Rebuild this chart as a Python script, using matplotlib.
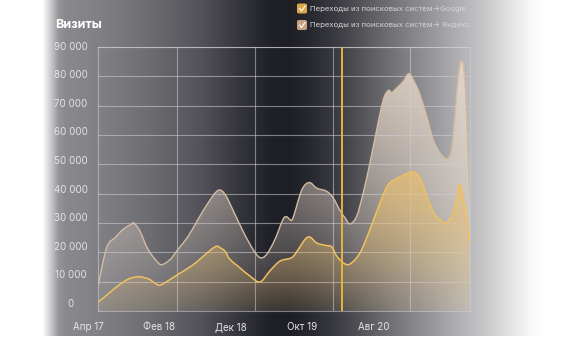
import numpy as np
import matplotlib
matplotlib.use("Agg")
import matplotlib.pyplot as plt
from matplotlib.patches import FancyBboxPatch, PathPatch
from matplotlib.path import Path
from matplotlib.lines import Line2D

plt.rcParams['font.family'] = ['Inter', 'DejaVu Sans']

W, H = 574, 338

# months counted from April 2017
months_yandex = [1.44, 2.62, 3.78, 4.90, 6.11, 6.43, 7.27, 8.39, 9.61, 10.31,
                 11.47, 12.59, 13.99, 15.38, 16.78, 18.18, 19.16, 20.28, 21.68, 23.08,
                 24.06, 24.99, 26.15, 27.27, 27.79, 28.25, 28.67, 29.89, 30.95, 31.99,
                 33.38, 34.31, 35.24, 35.94, 36.64, 37.58, 38.50, 39.44, 40.38, 41.30,
                 42.00, 42.48, 43.17, 44.10, 44.90, 45.73, 46.43, 47.37, 48.29, 49.23,
                 50.17, 50.87, 51.33, 51.79, 52.27, 52.73, 53.19, 53.43]
visits_yandex = [9000, 21700, 25000, 27800, 29700, 30000, 27200, 21000, 17000, 15800,
                 17500, 21000, 25400, 31200, 36800, 41100, 39800, 34400, 27200, 21000,
                 18200, 19300, 24400, 31200, 32100, 31200, 31700, 41200, 43800, 41900,
                 40800, 38500, 34300, 31800, 29700, 32300, 40300, 50500, 61800, 72000,
                 75200, 74500, 76000, 78300, 80900, 77700, 73800, 66400, 58400, 53900,
                 51900, 55000, 66400, 80000, 85300, 77700, 49300, 36000]

months_google = [1.44, 2.80, 4.20, 5.59, 6.99, 8.39, 9.37, 10.07, 11.19, 12.59,
                 14.50, 15.90, 17.30, 18.00, 18.46, 19.16, 19.86, 21.26, 22.66, 24.06,
                 25.45, 26.85, 28.49, 29.41, 30.35, 31.05, 31.99, 33.15, 34.08, 34.78,
                 35.71, 36.64, 38.04, 39.44, 40.84, 42.00, 43.40, 44.57, 45.73, 46.67,
                 47.55, 48.50, 49.43, 50.13, 51.06, 51.76, 52.08, 52.45, 53.15, 53.43]
visits_google = [3000, 5800, 8600, 10800, 11700, 11000, 9500, 8800, 10300, 12500,
                 15400, 18200, 21100, 22100, 21600, 20400, 17600, 14700, 11900, 9900,
                 13700, 17000, 18200, 21000, 24400, 25200, 23200, 22400, 21900, 18800,
                 16400, 16000, 19800, 27800, 36900, 43100, 45400, 46800, 47300, 44200,
                 38000, 32900, 30600, 30000, 33500, 41400, 43100, 39100, 28900, 23300]

tick_months = [0, 10, 20, 30, 40]
tick_labels = ['Апр 17', 'Фев 18', 'Дек 18', 'Окт 19', 'Авг 20']
y_ticks = list(range(0, 90001, 10000))
grid_months = [12.38, 23.29, 34.2, 45.03]
marker_month = 35.52
x_range = (1.4, 53.43)

fig = plt.figure(figsize=(W / 100, H / 100), dpi=100)

# horizontal shading behind everything
bg = fig.add_axes([0, 0, 1, 1], zorder=-10)
stops_x = [0, 42, 50, 58, 65, 100, 150, 200, 240, 270, 290, 310, 340, 370,
           400, 430, 460, 490, 515, 530, 545, 574]
stops_g = [255, 255, 205, 150, 138, 128, 108, 82, 52, 32, 30, 40, 62, 92,
           122, 150, 178, 205, 232, 248, 255, 255]
cols = np.arange(W)
g = np.interp(cols, stops_x, stops_g) / 255.0
row = np.stack([g, g, np.clip(g + 0.035 * (1 - g), 0, 1)], axis=-1)
img = np.repeat(row[None, :, :], H, axis=0)
img[336:, :, :] = 1.0
bg.imshow(img, aspect='auto', extent=[0, W, H, 0], interpolation='bilinear')
bg.set_axis_off()

ax = fig.add_axes([98 / W, 27 / H, 372 / W, 264 / H])
ax.patch.set_alpha(0)
ax.set_xlim(*x_range)
ax.set_ylim(0, 90000)
ax.set_yticks(y_ticks)
ax.set_xticks(grid_months)
ax.tick_params(length=0, labelleft=False, labelbottom=False)
ax.grid(True, color='#d0d0d6', alpha=0.55, lw=0.8)
for s in ax.spines.values():
    s.set_color('#d0d0d6')
    s.set_alpha(0.55)
    s.set_linewidth(0.8)


def smooth_path(xs, ys, closed=False):
    # cardinal spline through the points, written as cubic bezier segments
    p = np.column_stack([xs, ys]).astype(float)
    n = len(p)
    verts = [p[0]]
    codes = [Path.MOVETO]
    for i in range(n - 1):
        p0 = p[i - 1] if i > 0 else p[i]
        p3 = p[i + 2] if i + 2 < n else p[i + 1]
        c1 = p[i] + (p[i + 1] - p0) / 6
        c2 = p[i + 1] - (p3 - p[i]) / 6
        verts += [c1, c2, p[i + 1]]
        codes += [Path.CURVE4] * 3
    if closed:
        verts += [(p[-1, 0], 0), (p[0, 0], 0), p[0]]
        codes += [Path.LINETO, Path.LINETO, Path.CLOSEPOLY]
    return Path(verts, codes)


def gradient_area(xs, ys, rgb, a0, a1, line_color, lw, zorder):
    top = max(ys)
    n = 256
    vals = np.linspace(0, 90000, n)
    alpha = np.clip(a0 + (a1 - a0) * vals / top, 0, 1)
    grad = np.zeros((n, 2, 4))
    grad[:, :, :3] = rgb
    grad[:, :, 3] = alpha[:, None]
    im = ax.imshow(grad, aspect='auto', origin='lower',
                   extent=[x_range[0], x_range[1], 0, 90000], zorder=zorder)
    im.set_clip_path(smooth_path(xs, ys, closed=True), ax.transData)
    ax.add_patch(PathPatch(smooth_path(xs, ys), fill=False, edgecolor=line_color,
                           lw=lw, zorder=zorder + 2))


gradient_area(months_yandex, visits_yandex, (0.92, 0.86, 0.80), 0.05, 0.85,
              '#d4bca2', 1.0, 1)
gradient_area(months_google, visits_google, (0.92, 0.75, 0.43), 0.10, 0.72,
              '#f0c060', 1.1, 2)
ax.axvline(marker_month, color='#e8b43c', lw=1.4, zorder=6)
ax.set_xlim(*x_range)
ax.set_ylim(0, 90000)

# axis labels
ytr = ax.get_yaxis_transform()
for v in y_ticks:
    label = f'{v:,}'.replace(',', '\u00a0') if v else '0'
    ax.text(-0.0726, 2450 + v * 0.974, label, transform=ytr, ha='center',
            va='center', fontsize=7, color='#e4e4e8', clip_on=False)
xtr = ax.get_xaxis_transform()
for m, lab in zip(tick_months, tick_labels):
    ax.text(m, -0.062, lab, transform=xtr, ha='center', va='center',
            fontsize=7, color='#e4e4e8', clip_on=False)

fig.text(55 / W, 1 - 25 / H, 'Визиты', fontsize=9, fontweight='bold',
         color='white', ha='left', va='center')

# legend with check boxes
legend = [('Переходы из поисковых систем\u2192Google', '#dba94a', 8.5),
          ('Переходы из поисковых систем\u2192 Яндекс', '#c9a080', 25)]
for text, col, yc in legend:
    box = FancyBboxPatch((297 / W, 1 - (yc + 5) / H), 10 / W, 10 / H,
                         boxstyle='round,pad=0,rounding_size=0.004',
                         transform=fig.transFigure, facecolor=col,
                         edgecolor='none')
    fig.patches.append(box)
    fig.lines.append(Line2D([299.5 / W, 301.5 / W, 305 / W],
                            [1 - yc / H, 1 - (yc + 2.5) / H, 1 - (yc - 2.5) / H],
                            transform=fig.transFigure, color='white', lw=0.8))
    fig.text(310 / W, 1 - yc / H, text, fontsize=5.55, color='#d4d4d8',
             ha='left', va='center')

fig.savefig('out.png', dpi=100)
